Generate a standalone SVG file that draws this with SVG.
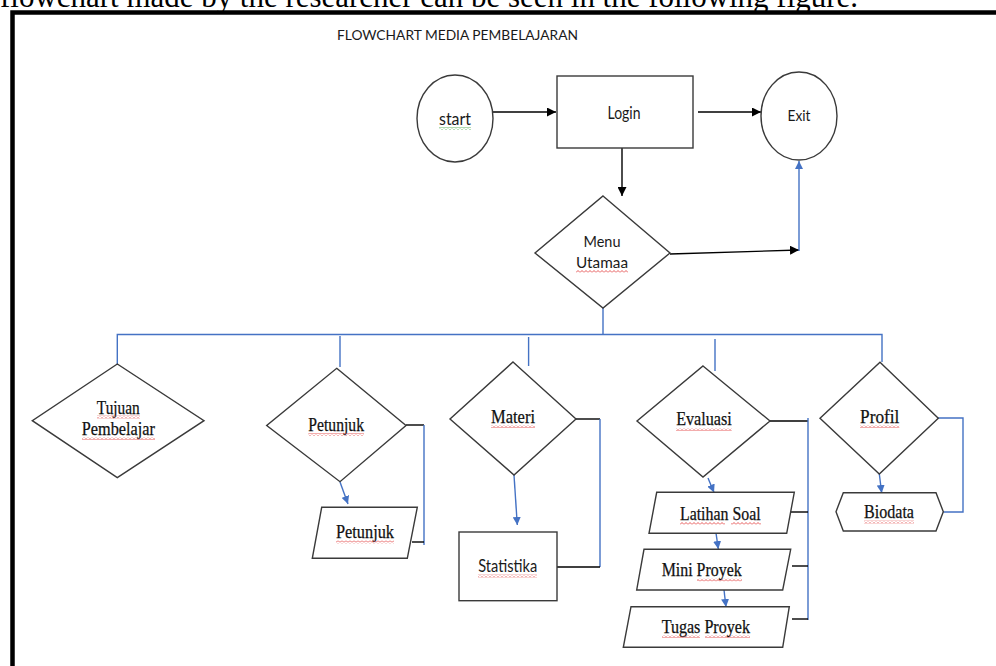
<svg xmlns="http://www.w3.org/2000/svg" width="996" height="666" viewBox="0 0 996 666">
<style>
.shape{fill:#fff;stroke:#3a3a3a;stroke-width:1.4}
.k{fill:none;stroke:#000;stroke-width:1.4}
.b{fill:none;stroke:#4472C4;stroke-width:1.4}
.sans{font-family:Lato,"Liberation Sans",sans-serif;fill:#1a1a1a;text-anchor:middle}
.serif{font-family:"Liberation Serif",serif;fill:#111;stroke:#111;stroke-width:0.25;text-anchor:middle}
.wr{fill:url(#wavyRed)}
.wg{fill:url(#wavyGreen)}
</style>
<defs>
<pattern id="wavyRed" width="4" height="3" patternUnits="userSpaceOnUse"><path d="M0,2.5 L2,0.5 L4,2.5" fill="none" stroke="#e03030" stroke-width="0.8"/></pattern>
<pattern id="wavyGreen" width="4" height="3" patternUnits="userSpaceOnUse"><path d="M0,2.5 L2,0.5 L4,2.5" fill="none" stroke="#3aa33a" stroke-width="0.8"/></pattern>
<marker id="ak" markerUnits="userSpaceOnUse" markerWidth="10" markerHeight="9" refX="9" refY="4.5" orient="auto"><path d="M0,0 L9,4.5 L0,9 z" fill="#000"/></marker>
<marker id="ab" markerUnits="userSpaceOnUse" markerWidth="9" markerHeight="8" refX="8" refY="4" orient="auto"><path d="M0,0 L8,4 L0,8 z" fill="#4472C4"/></marker>
</defs>
<rect width="996" height="666" fill="#fff"/>
<text x="0" y="7" font-family="'Liberation Serif',serif" font-size="31" fill="#000" textLength="858" lengthAdjust="spacingAndGlyphs">flowchart made by the researcher can be seen in the following figure.</text>
<path d="M12.5,666 V12.5 H996" fill="none" stroke="#000" stroke-width="4.5"/>
<text x="457.5" y="39.5" class="sans" font-size="13" textLength="241" lengthAdjust="spacingAndGlyphs">FLOWCHART MEDIA PEMBELAJARAN</text>

<g id="connectors">
<path class="k" d="M493,112 H556" marker-end="url(#ak)"/>
<path class="k" d="M698,112 H761" marker-end="url(#ak)"/>
<path class="k" d="M622,148 V196" marker-end="url(#ak)"/>
<path class="k" d="M670,254 L799,250" marker-end="url(#ak)"/>
<path class="b" d="M799,251 V161" marker-end="url(#ab)"/>
<path class="b" d="M603,308 V334.5"/>
<path class="b" d="M117.3,364 V334.5 H882 V362"/>
<path class="b" d="M340,336 V367"/>
<path class="b" d="M528.6,337 V366"/>
<path class="b" d="M715,339 V371"/>
<path class="k" d="M406,425 H424"/>
<path class="b" d="M424,425 V545"/>
<path class="k" d="M412,542 H424"/>
<path class="b" d="M340,482 L348,504" marker-end="url(#ab)"/>
<path class="k" d="M576,419 H600"/>
<path class="b" d="M600,419 V567"/>
<path class="k" d="M557,567 H600"/>
<path class="b" d="M514,475 L517.3,525" marker-end="url(#ab)"/>
<path class="k" d="M770,421 H808"/>
<path class="b" d="M808,418 V620"/>
<path class="k" d="M789,512 H808"/>
<path class="k" d="M792,566 H808"/>
<path class="k" d="M792,619 H808"/>
<path class="b" d="M708,478 L714,492.5" marker-end="url(#ab)"/>
<path class="b" d="M716,533 L718.3,549" marker-end="url(#ab)"/>
<path class="b" d="M724,590 L726,607" marker-end="url(#ab)"/>
<path class="b" d="M938,418 H963 V512 H943.3"/>
<path class="b" d="M879.3,474 L881.7,493" marker-end="url(#ab)"/>
</g>

<g id="start">
<ellipse class="shape" cx="455" cy="118.5" rx="38" ry="43.5"/>
<text x="455" y="125" class="sans" font-size="18" textLength="32" lengthAdjust="spacingAndGlyphs">start</text>
<rect class="wg" x="439" y="127" width="32" height="3"/>
</g>
<g id="login">
<rect class="shape" x="557" y="76" width="136" height="72"/>
<text x="624" y="119" class="sans" font-size="18" textLength="33" lengthAdjust="spacingAndGlyphs">Login</text>
</g>
<g id="exit">
<ellipse class="shape" cx="799" cy="116" rx="38" ry="44"/>
<text x="799" y="121" class="sans" font-size="16" textLength="23" lengthAdjust="spacingAndGlyphs">Exit</text>
</g>
<g id="menu-utamaa">
<polygon class="shape" points="603,196 670,253 603,308 535,253"/>
<text x="602" y="246.7" class="sans" font-size="16" textLength="37" lengthAdjust="spacingAndGlyphs">Menu</text>
<text x="602" y="268.3" class="sans" font-size="16" textLength="52" lengthAdjust="spacingAndGlyphs">Utamaa</text>
<rect class="wr" x="576" y="270" width="52" height="3"/>
</g>
<g id="tujuan">
<polygon class="shape" points="117.3,364 204,420.7 117.3,477.7 32.3,420.7"/>
<text x="118.3" y="414" class="serif" font-size="18" textLength="43" lengthAdjust="spacingAndGlyphs">Tujuan</text>
<text x="118.3" y="435" class="serif" font-size="18" textLength="73" lengthAdjust="spacingAndGlyphs">Pembelajar</text>
<rect class="wr" x="97" y="415.5" width="43" height="3"/>
<rect class="wr" x="82" y="437" width="73" height="3"/>
</g>
<g id="petunjuk">
<polygon class="shape" points="336.7,368.3 406,425.5 340,481.7 266.7,425.5"/>
<text x="336.2" y="431" class="serif" font-size="18" textLength="55.7" lengthAdjust="spacingAndGlyphs">Petunjuk</text>
<rect class="wr" x="308.3" y="433" width="55.7" height="3"/>
</g>
<g id="petunjuk-page">
<polygon class="shape" points="321.7,507.3 417.3,507.3 407.3,558.3 312.3,558.3"/>
<text x="365" y="538.3" class="serif" font-size="18" textLength="58" lengthAdjust="spacingAndGlyphs">Petunjuk</text>
<rect class="wr" x="336" y="540.5" width="58" height="3"/>
</g>
<g id="materi">
<polygon class="shape" points="513,362 576,419 514,475 450,419"/>
<text x="513" y="423" class="serif" font-size="18" textLength="44" lengthAdjust="spacingAndGlyphs">Materi</text>
<rect class="wr" x="491" y="425" width="44" height="3"/>
</g>
<g id="statistika">
<rect class="shape" x="459" y="532" width="98" height="68.7"/>
<text x="507.7" y="572" class="sans" font-size="17" textLength="59" lengthAdjust="spacingAndGlyphs">Statistika</text>
<rect class="wr" x="478" y="574.5" width="59" height="3"/>
</g>
<g id="evaluasi">
<polygon class="shape" points="703,366 770,421 703,477 637,421"/>
<text x="704" y="425" class="serif" font-size="18.5" textLength="55.7" lengthAdjust="spacingAndGlyphs">Evaluasi</text>
<rect class="wr" x="676" y="428" width="55.7" height="3"/>
</g>
<g id="latihan-soal">
<polygon class="shape" points="656.7,492.3 794.3,492.3 786.7,533.3 649,533.3"/>
<text x="720.3" y="520" class="serif" font-size="18" textLength="80.7" lengthAdjust="spacingAndGlyphs">Latihan Soal</text>
<rect class="wr" x="680" y="522" width="45" height="3"/>
<rect class="wr" x="731" y="522" width="30" height="3"/>
</g>
<g id="mini-proyek">
<polygon class="shape" points="644,549.3 790.7,549.3 782.7,590 636.7,590"/>
<text x="701.7" y="576" class="serif" font-size="18" textLength="80" lengthAdjust="spacingAndGlyphs">Mini Proyek</text>
<rect class="wr" x="697" y="578.5" width="45" height="3"/>
</g>
<g id="tugas-proyek">
<polygon class="shape" points="631,606.7 789.3,606.7 782.7,647.3 623.3,647.3"/>
<text x="705.8" y="632.7" class="serif" font-size="18" textLength="88.3" lengthAdjust="spacingAndGlyphs">Tugas Proyek</text>
<rect class="wr" x="662" y="635" width="38" height="3"/>
<rect class="wr" x="705" y="635" width="45" height="3"/>
</g>
<g id="profil">
<polygon class="shape" points="880,362.3 938.3,418.3 879.3,474 820,418.3"/>
<text x="879.7" y="422.7" class="serif" font-size="18" textLength="39.3" lengthAdjust="spacingAndGlyphs">Profil</text>
<rect class="wr" x="860" y="425" width="39.3" height="3"/>
</g>
<g id="biodata">
<polygon class="shape" points="836,511.7 843.3,492.7 936,492.7 943.3,511.7 936,531 843.3,531"/>
<text x="889" y="518.3" class="serif" font-size="18" textLength="50" lengthAdjust="spacingAndGlyphs">Biodata</text>
<rect class="wr" x="864" y="520.5" width="50" height="3"/>
</g>
</svg>
